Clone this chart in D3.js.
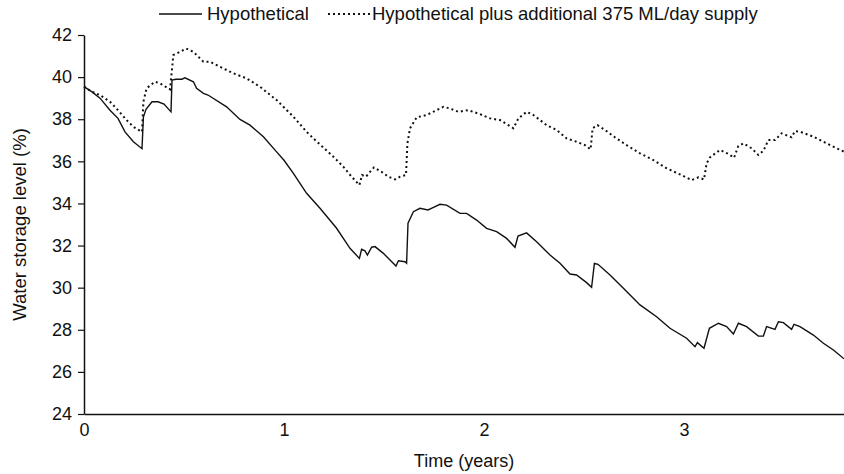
<!DOCTYPE html>
<html>
<head>
<meta charset="utf-8">
<script src="https://cdn.jsdelivr.net/npm/d3@7"></script>
<style>
  body { margin: 0; background: #fff; }
  svg text { font-family: "Liberation Sans", Arial, sans-serif; fill: #111; }
</style>
</head>
<body>
<div id="chart"></div>
<script>
// time in years / storage level in %
const hypoT = [0, 0.04, 0.08, 0.13, 0.17, 0.205, 0.247, 0.29, 0.297, 0.31, 0.34, 0.37, 0.40, 0.435, 0.44, 0.46, 0.49, 0.505, 0.547, 0.563, 0.597, 0.62, 0.713, 0.78, 0.83, 0.897, 0.963, 1.0, 1.047, 1.113, 1.18, 1.263, 1.33, 1.377, 1.388, 1.405, 1.417, 1.438, 1.455, 1.497, 1.53, 1.56, 1.572, 1.605, 1.613, 1.62, 1.647, 1.68, 1.72, 1.737, 1.78, 1.813, 1.88, 1.913, 1.963, 2.013, 2.063, 2.113, 2.155, 2.17, 2.213, 2.263, 2.33, 2.38, 2.43, 2.463, 2.513, 2.538, 2.552, 2.57, 2.63, 2.697, 2.78, 2.863, 2.93, 3.013, 3.055, 3.067, 3.1, 3.127, 3.172, 3.213, 3.247, 3.272, 3.313, 3.372, 3.397, 3.413, 3.455, 3.472, 3.497, 3.538, 3.55, 3.58, 3.647, 3.697, 3.747, 3.8];
const hypoV = [39.55, 39.3, 39.0, 38.43, 38.04, 37.4, 36.93, 36.6, 38.1, 38.47, 38.83, 38.83, 38.72, 38.35, 39.86, 39.9, 39.9, 39.97, 39.78, 39.47, 39.23, 39.15, 38.59, 37.99, 37.72, 37.17, 36.45, 36.05, 35.43, 34.48, 33.77, 32.82, 31.87, 31.39, 31.82, 31.75, 31.55, 31.92, 31.95, 31.63, 31.31, 31.03, 31.28, 31.23, 31.16, 33.06, 33.61, 33.77, 33.69, 33.77, 33.96, 33.92, 33.53, 33.53, 33.21, 32.82, 32.66, 32.34, 31.92, 32.45, 32.6, 32.18, 31.55, 31.16, 30.65, 30.6, 30.24, 30.02, 31.15, 31.11, 30.6, 29.97, 29.18, 28.62, 28.07, 27.6, 27.2, 27.39, 27.12, 28.07, 28.31, 28.15, 27.8, 28.31, 28.15, 27.7, 27.7, 28.15, 28.02, 28.38, 28.34, 28.02, 28.26, 28.15, 27.75, 27.36, 27.04, 26.62];

const supplyT = [0, 0.038, 0.08, 0.13, 0.17, 0.213, 0.247, 0.29, 0.297, 0.313, 0.355, 0.38, 0.43, 0.447, 0.48, 0.51, 0.547, 0.597, 0.63, 0.68, 0.747, 0.813, 0.88, 0.963, 1.047, 1.113, 1.147, 1.197, 1.247, 1.297, 1.338, 1.377, 1.39, 1.41, 1.43, 1.45, 1.488, 1.522, 1.555, 1.58, 1.61, 1.617, 1.63, 1.663, 1.713, 1.763, 1.797, 1.83, 1.872, 1.922, 1.98, 2.03, 2.08, 2.122, 2.147, 2.172, 2.213, 2.247, 2.313, 2.363, 2.413, 2.463, 2.505, 2.533, 2.543, 2.567, 2.605, 2.655, 2.713, 2.78, 2.847, 2.913, 2.98, 3.038, 3.072, 3.1, 3.113, 3.13, 3.18, 3.222, 3.25, 3.272, 3.297, 3.338, 3.372, 3.397, 3.422, 3.455, 3.488, 3.538, 3.555, 3.58, 3.647, 3.697, 3.763, 3.8];
const supplyV = [39.55, 39.31, 39.15, 38.83, 38.43, 37.96, 37.64, 37.4, 38.83, 39.47, 39.78, 39.7, 39.42, 41.05, 41.2, 41.36, 41.2, 40.73, 40.73, 40.49, 40.18, 39.94, 39.54, 38.91, 38.12, 37.4, 37.09, 36.65, 36.22, 35.74, 35.27, 34.87, 35.35, 35.27, 35.5, 35.71, 35.5, 35.27, 35.14, 35.27, 35.35, 36.85, 37.57, 38.09, 38.2, 38.43, 38.59, 38.51, 38.35, 38.43, 38.24, 38.04, 37.96, 37.72, 37.57, 38.04, 38.35, 38.2, 37.72, 37.49, 37.09, 36.93, 36.77, 36.57, 37.57, 37.72, 37.49, 37.14, 36.77, 36.38, 36.06, 35.67, 35.38, 35.11, 35.24, 35.14, 35.9, 36.19, 36.54, 36.35, 36.17, 36.73, 36.85, 36.62, 36.3, 36.5, 37.01, 37.01, 37.33, 37.14, 37.44, 37.41, 37.17, 36.93, 36.62, 36.46];

const xTicks = [0, 1, 2, 3];
const yTicks = [24, 26, 28, 30, 32, 34, 36, 38, 40, 42];
const seriesNames = ["Hypothetical", "Hypothetical plus additional 375 ML/day supply"];

const W = 844, H = 474;
const margin = { top: 35, right: 0, bottom: 60, left: 84 };

const svg = d3.select("#chart").append("svg")
  .attr("width", W)
  .attr("height", H);

const x = d3.scaleLinear().domain([0, 3.8]).range([margin.left, W - margin.right]);
const y = d3.scaleLinear().domain([24, 42]).range([H - margin.bottom, margin.top]);

// axes
const yAxis = svg.append("g")
  .attr("transform", `translate(${margin.left},0)`)
  .call(d3.axisLeft(y).tickValues(yTicks).tickSize(6).tickPadding(6).tickSizeOuter(0));
yAxis.select(".domain").attr("stroke", "#111").attr("stroke-width", 1.5);
yAxis.selectAll(".tick line").attr("stroke", "#111").attr("stroke-width", 1.2);
yAxis.selectAll("text").style("font-size", "18px");

const xAxis = svg.append("g")
  .attr("transform", `translate(0,${H - margin.bottom})`)
  .call(d3.axisBottom(x).tickValues(xTicks).tickFormat(d3.format("d"))
    .tickSize(0).tickPadding(9).tickSizeOuter(0));
xAxis.select(".domain").attr("stroke", "#111").attr("stroke-width", 1.5);
xAxis.selectAll("text").style("font-size", "18px");

// lines
const line = d3.line()
  .x(d => x(d[0]))
  .y(d => y(d[1]));

const hypo = hypoT.map((t, i) => [t, hypoV[i]]);
const supply = supplyT.map((t, i) => [t, supplyV[i]]);

svg.append("path")
  .datum(supply)
  .attr("d", line)
  .attr("fill", "none")
  .attr("stroke", "#111")
  .attr("stroke-width", 2)
  .attr("stroke-dasharray", "2,3");

svg.append("path")
  .datum(hypo)
  .attr("d", line)
  .attr("fill", "none")
  .attr("stroke", "#111")
  .attr("stroke-width", 1.4);

// axis titles
svg.append("text")
  .attr("x", 464)
  .attr("y", 467)
  .attr("text-anchor", "middle")
  .style("font-size", "18px")
  .text("Time (years)");

svg.append("text")
  .attr("transform", `translate(26,${(margin.top + H - margin.bottom) / 2}) rotate(-90)`)
  .attr("text-anchor", "middle")
  .style("font-size", "18.5px")
  .text("Water storage level (%)");

// legend
const legend = svg.append("g");
legend.append("line")
  .attr("x1", 159).attr("x2", 202).attr("y1", 14).attr("y2", 14)
  .attr("stroke", "#111").attr("stroke-width", 1.4);
legend.append("text")
  .attr("x", 207).attr("y", 20)
  .style("font-size", "18.5px")
  .text(seriesNames[0]);
legend.append("line")
  .attr("x1", 328).attr("x2", 370).attr("y1", 14).attr("y2", 14)
  .attr("stroke", "#111").attr("stroke-width", 2)
  .attr("stroke-dasharray", "2,3");
legend.append("text")
  .attr("x", 372).attr("y", 20)
  .style("font-size", "18.5px")
  .text(seriesNames[1]);
</script>
</body>
</html>
